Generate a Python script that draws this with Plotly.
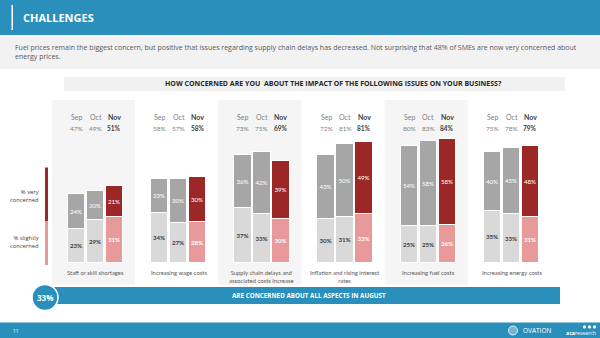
import plotly.graph_objects as go

# ---- data -------------------------------------------------------------
issues = [
    "Staff or skill shortages",
    "Increasing wage costs",
    "Supply chain delays and<br>associated costs increase",
    "Inflation and rising interest<br>rates",
    "Increasing fuel costs",
    "Increasing energy costs",
]
months = ["Sep", "Oct", "Nov"]
very_concerned = [
    [24, 20, 21],
    [23, 30, 30],
    [36, 42, 39],
    [43, 50, 49],
    [54, 58, 58],
    [40, 45, 48],
]
slightly_concerned = [
    [23, 29, 31],
    [34, 27, 28],
    [37, 33, 30],
    [30, 31, 33],
    [25, 25, 26],
    [35, 33, 31],
]
total_concerned = [
    [47, 49, 51],
    [58, 57, 58],
    [73, 75, 69],
    [72, 81, 81],
    [80, 83, 84],
    [75, 78, 79],
]
all_aspects_pct = 33

# ---- styling ----------------------------------------------------------
W, H = 600, 338
BLUE = "#2a8fba"
GREY_DARK = "#a6a6a6"
GREY_LIGHT = "#d9d9d9"
RED = "#9b2727"
PINK = "#e89a9a"
TXT = "#404040"
TXT_GREY = "#7f7f7f"
HEAD_FONT = "Open Sans"
BODY_FONT = "Lato"

BAR_STEP = 0.228   # spacing between month bars within a panel (axis units)
BAR_W = 0.21


def px(x):
    return x / W


def py(y):
    return 1 - y / H


xs, lower, upper, lower_col, upper_col, lower_txt = [], [], [], [], [], []
for i in range(len(issues)):
    for j, m in enumerate(months):
        xs.append(i + (j - 1) * BAR_STEP)
        lower.append(slightly_concerned[i][j])
        upper.append(very_concerned[i][j])
        latest = (j == len(months) - 1)
        lower_col.append(PINK if latest else GREY_LIGHT)
        upper_col.append(RED if latest else GREY_DARK)
        lower_txt.append("white" if latest else TXT)

fig = go.Figure()
fig.add_trace(go.Bar(
    x=xs, y=lower, width=BAR_W, name="% slightly concerned",
    marker=dict(color=lower_col, line=dict(color="white", width=1)),
    texttemplate="<b>%{y}%</b>", textposition="inside", insidetextanchor="middle",
    textangle=0, constraintext="none",
    textfont=dict(family=BODY_FONT, size=6.2, color=lower_txt),
    hoverinfo="skip",
))
fig.add_trace(go.Bar(
    x=xs, y=upper, width=BAR_W, name="% very concerned",
    marker=dict(color=upper_col, line=dict(color="white", width=1)),
    texttemplate="%{y}%", textposition="inside", insidetextanchor="middle",
    textangle=0, constraintext="none",
    textfont=dict(family=BODY_FONT, size=6.2, color="white"),
    hoverinfo="skip",
))

shapes = []
annotations = []

# header band
shapes.append(dict(type="rect", xref="paper", yref="paper", x0=0, x1=1,
                   y0=py(35), y1=1, fillcolor=BLUE, line_width=0, layer="below"))
shapes.append(dict(type="rect", xref="paper", yref="paper", x0=0, x1=1,
                   y0=py(69), y1=py(36.5), fillcolor="#f2f2f2", line_width=0, layer="below"))
shapes.append(dict(type="rect", xref="paper", yref="paper", x0=px(11.5), x1=px(13),
                   y0=py(30), y1=py(5), fillcolor="white", line_width=0))
annotations.append(dict(text="<b>CHALLENGES</b>", x=px(21), y=py(17.5), xref="paper", yref="paper",
                        xanchor="left", yanchor="middle", showarrow=False,
                        font=dict(family=HEAD_FONT, size=11, color="white")))
annotations.append(dict(
    text=("Fuel prices remain the biggest concern, but positive that issues regarding supply chain "
          "delays has decreased. Not surprising that 48% of SMEs are now very concerned about<br>"
          "energy prices."),
    x=px(13), y=py(52), xref="paper", yref="paper", xanchor="left", yanchor="middle",
    align="left", showarrow=False,
    font=dict(family=HEAD_FONT, size=7.0, color="#595959")))

# question box
shapes.append(dict(type="rect", xref="paper", yref="paper", x0=px(64), x1=px(565),
                   y0=py(91), y1=py(77), fillcolor="#f0f0f0", line_width=0, layer="below"))
annotations.append(dict(
    text="<b>HOW CONCERNED ARE YOU  ABOUT THE IMPACT OF THE FOLLOWING ISSUES ON YOUR BUSINESS?</b>",
    x=px(333), y=py(84), xref="paper", yref="paper", xanchor="center", yanchor="middle",
    showarrow=False, font=dict(family=HEAD_FONT, size=7.0, color="#262626")))

# panels
for i, label in enumerate(issues):
    if i % 2 == 0:
        shapes.append(dict(type="rect", xref="x", yref="paper", x0=i - 0.525, x1=i + 0.475,
                           y0=py(285), y1=py(100), fillcolor="#f5f5f5", line_width=0,
                           layer="below"))
    for j, m in enumerate(months):
        latest = (j == len(months) - 1)
        xj = i + (j - 1) * BAR_STEP
        annotations.append(dict(
            text=f"<b>{m}</b>" if latest else m, x=xj, y=py(116.5), xref="x", yref="paper",
            xanchor="center", yanchor="middle", showarrow=False,
            font=dict(family=BODY_FONT, size=7, color=TXT if latest else TXT_GREY)))
        val = f"{total_concerned[i][j]}%"
        annotations.append(dict(
            text=f"<b>{val}</b>" if latest else val, x=xj, y=py(128.5), xref="x", yref="paper",
            xanchor="center", yanchor="middle", showarrow=False,
            font=dict(family=BODY_FONT, size=6.5, color=TXT if latest else TXT_GREY)))
    annotations.append(dict(
        text=label, x=i, y=py(266.5), xref="x", yref="paper", xanchor="center", yanchor="top",
        showarrow=False, font=dict(family=BODY_FONT, size=5.9, color="#595959")))

# left key
shapes.append(dict(type="rect", xref="paper", yref="paper", x0=px(45), x1=px(48),
                   y0=py(221), y1=py(167.5), fillcolor=RED, line_width=0))
shapes.append(dict(type="rect", xref="paper", yref="paper", x0=px(45), x1=px(48),
                   y0=py(265), y1=py(221), fillcolor=PINK, line_width=0))
annotations.append(dict(text="% very<br>concerned", x=px(41), y=py(196), xref="paper",
                        yref="paper", xanchor="right", yanchor="middle", align="right",
                        showarrow=False, font=dict(family=HEAD_FONT, size=5.8, color=TXT)))
annotations.append(dict(text="% slightly<br>concerned", x=px(41), y=py(241.5), xref="paper",
                        yref="paper", xanchor="right", yanchor="middle", align="right",
                        showarrow=False, font=dict(family=HEAD_FONT, size=5.8, color=TXT)))

# bottom banner
shapes.append(dict(type="rect", xref="paper", yref="paper", x0=px(52), x1=px(560),
                   y0=py(304), y1=py(287), fillcolor=BLUE, line_width=0))
shapes.append(dict(type="circle", xref="paper", yref="paper", x0=px(32), x1=px(58),
                   y0=py(310.5), y1=py(284.5), fillcolor=BLUE,
                   line=dict(color="white", width=1.5)))
annotations.append(dict(text=f"<b>{all_aspects_pct}%</b>", x=px(45), y=py(297.5), xref="paper",
                        yref="paper", xanchor="center", yanchor="middle", showarrow=False,
                        font=dict(family=HEAD_FONT, size=8, color="white")))
annotations.append(dict(text="<b>ARE CONCERNED ABOUT ALL ASPECTS IN AUGUST</b>", x=px(309),
                        y=py(295.5), xref="paper", yref="paper", xanchor="center",
                        yanchor="middle", showarrow=False,
                        font=dict(family=HEAD_FONT, size=6.3, color="white")))

# footer
shapes.append(dict(type="rect", xref="paper", yref="paper", x0=0, x1=1,
                   y0=0, y1=py(322.5), fillcolor=BLUE, line_width=0))
annotations.append(dict(text="11", x=px(11), y=py(330.5), xref="paper", yref="paper",
                        xanchor="left", yanchor="middle", showarrow=False,
                        font=dict(family=HEAD_FONT, size=5, color="white")))
shapes.append(dict(type="circle", xref="paper", yref="paper", x0=px(508.5), x1=px(517.5),
                   y0=py(335), y1=py(326), fillcolor="rgba(255,255,255,0.35)",
                   line=dict(color="white", width=0.8)))
annotations.append(dict(text="OVATION", x=px(521), y=py(330.5), xref="paper", yref="paper",
                        xanchor="left", yanchor="middle", showarrow=False,
                        font=dict(family=HEAD_FONT, size=6.5, color="white")))
annotations.append(dict(text="<b>aca</b>research", x=px(564), y=py(332.5), xref="paper",
                        yref="paper", xanchor="left", yanchor="middle", showarrow=False,
                        font=dict(family=HEAD_FONT, size=5.2, color="white")))
for cx in (584.5, 589.5, 594.5):
    shapes.append(dict(type="circle", xref="paper", yref="paper", x0=px(cx - 1.6),
                       x1=px(cx + 1.6), y0=py(328.5), y1=py(325.3), fillcolor="white",
                       line_width=0))

# axes mapped so one panel spans ~83 px and 1% ~ 1.475 px above the baseline
fig.update_layout(
    width=W, height=H, autosize=False,
    margin=dict(l=0, r=0, t=0, b=0),
    paper_bgcolor="white", plot_bgcolor="rgba(0,0,0,0)",
    barmode="stack", bargap=0, showlegend=False,
    xaxis=dict(range=[-1.1478, 6.0637], visible=False, fixedrange=True),
    yaxis=dict(range=[-50.85, 178.3], visible=False, fixedrange=True),
    shapes=shapes, annotations=annotations,
    uniformtext=dict(minsize=5, mode="show"),
)

fig.write_html("out.html")
